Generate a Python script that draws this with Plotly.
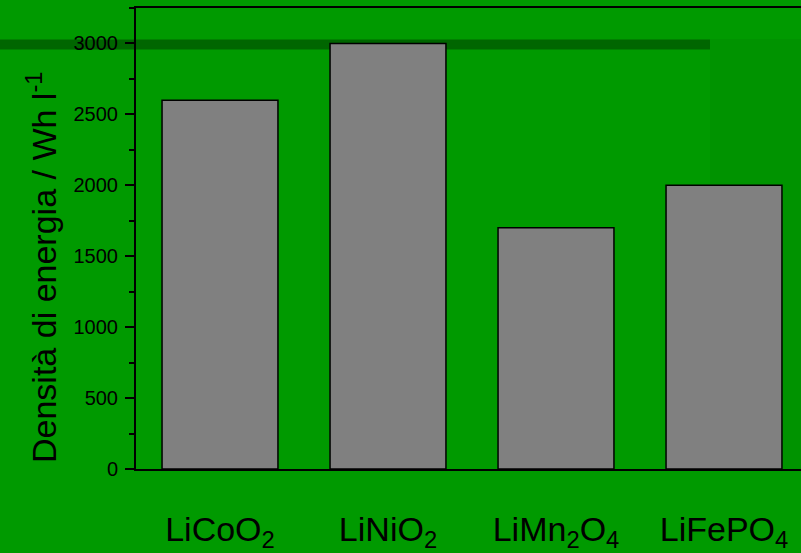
import plotly.graph_objects as go

# Cathode materials and their volumetric energy density (Wh/l)
materials = ["LiCoO<sub>2</sub>", "LiNiO<sub>2</sub>", "LiMn<sub>2</sub>O<sub>4</sub>", "LiFePO<sub>4</sub>"]
energy_density = [2600, 3000, 1700, 2000]
y_ticks = [0, 500, 1000, 1500, 2000, 2500, 3000]
y_title = "Densità di energia / Wh l<sup>-1</sup>"

W, H = 801, 553
ML, MR, MT, MB = 136, 0, 8, 84
FONT = "Liberation Sans, Arial, sans-serif"

fig = go.Figure(
    go.Bar(
        x=materials,
        y=energy_density,
        width=0.69,
        marker=dict(color="#808080", line=dict(color="#000000", width=1.5)),
    )
)

plot_w = W - ML - MR
plot_h = H - MT - MB


def px_to_paper_x(px):
    return (px - ML) / plot_w


def px_to_paper_y(py):
    return (H - MB - py) / plot_h


# slide backdrop: slightly darker panel on the right and a dark stripe at 3000
fig.add_shape(type="rect", xref="paper", yref="paper",
              x0=px_to_paper_x(710), x1=px_to_paper_x(W + 5),
              y0=px_to_paper_y(469), y1=px_to_paper_y(39),
              fillcolor="#009300", line_width=0, layer="below")
fig.add_shape(type="rect", xref="paper", yref="y",
              x0=px_to_paper_x(0), x1=px_to_paper_x(710),
              y0=2958, y1=3028,
              fillcolor="#006600", line_width=0, layer="below")

# vertical axis title
fig.add_annotation(
    text=y_title, textangle=-90,
    xref="paper", yref="paper",
    x=px_to_paper_x(41), y=px_to_paper_y(267),
    xanchor="center", yanchor="middle", showarrow=False,
    font=dict(size=34, family=FONT, color="#000000"),
)

fig.update_layout(
    width=W, height=H,
    margin=dict(l=ML, r=MR, t=MT, b=MB, pad=0, autoexpand=False),
    paper_bgcolor="#009a00",
    plot_bgcolor="rgba(0,0,0,0)",
    font=dict(family=FONT, color="#000000"),
    showlegend=False,
)

fig.update_xaxes(
    range=[-0.5, -0.5 + plot_w / 168.0],
    automargin=False,
    showline=True, linecolor="#000000", linewidth=1.5, mirror=True,
    showgrid=False, zeroline=False,
    ticks="", tickfont=dict(size=34, family=FONT),
    ticklabelstandoff=29,
)

fig.update_yaxes(
    range=[0, 3250],
    automargin=False,
    tickvals=y_ticks,
    ticks="outside", ticklen=9, tickwidth=2, tickcolor="#000000",
    minor=dict(dtick=250, ticks="outside", ticklen=5, tickwidth=2, tickcolor="#000000", showgrid=False),
    showline=True, linecolor="#000000", linewidth=2,
    showgrid=False, zeroline=False,
    tickfont=dict(size=20, family=FONT),
    ticklabelstandoff=3,
)

fig.write_html("out.html")
